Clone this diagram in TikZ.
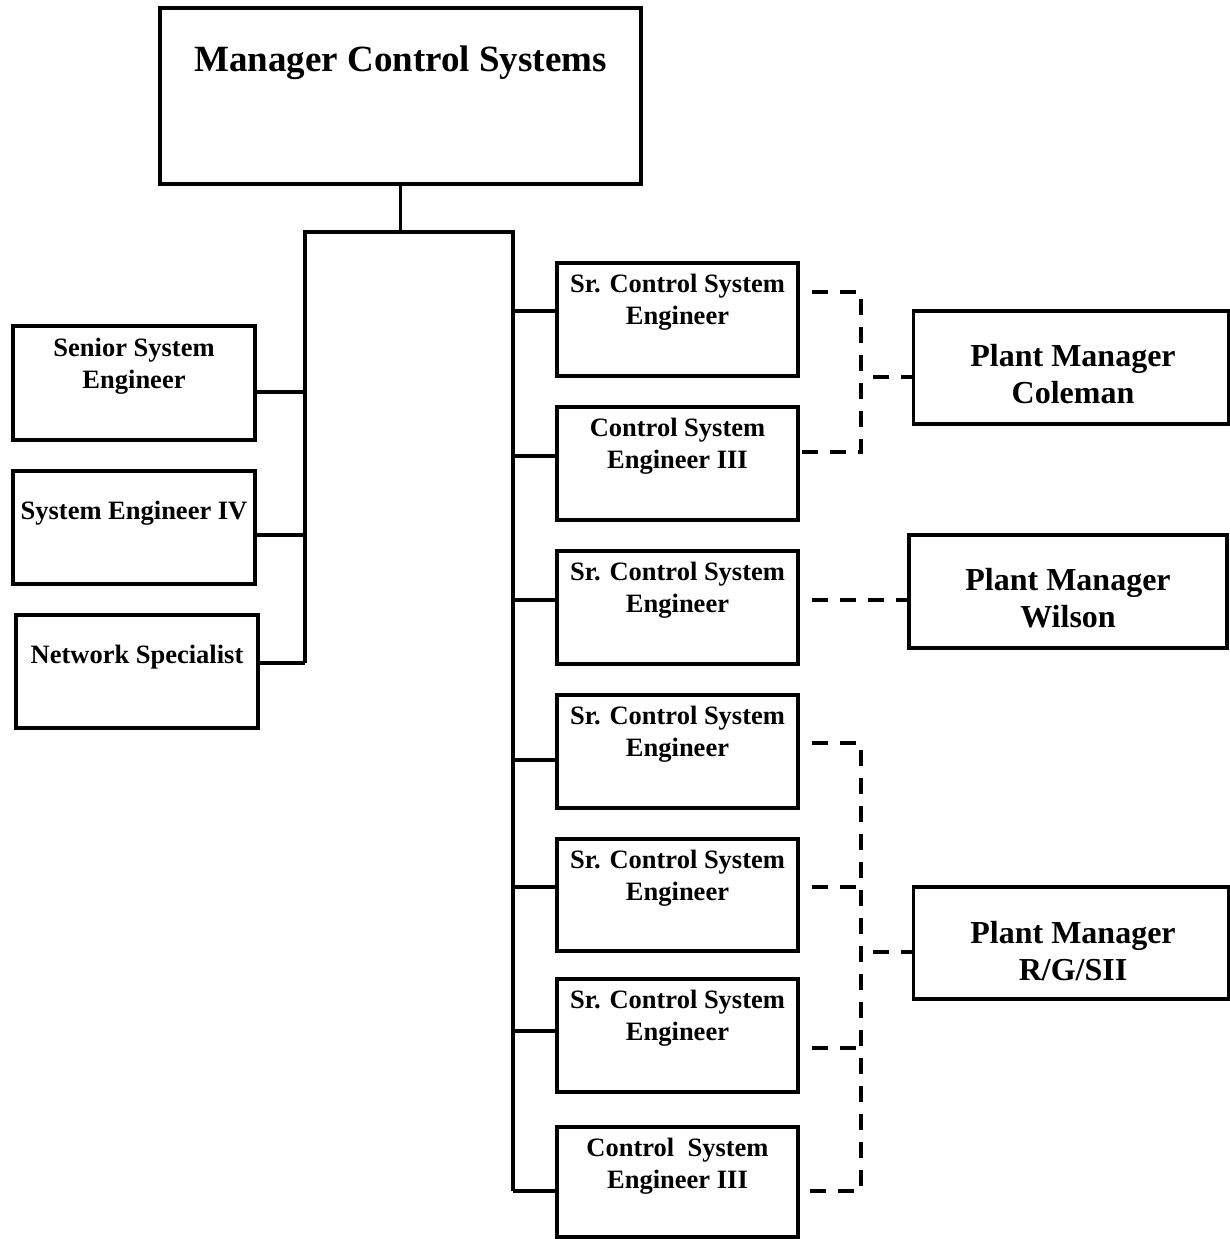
\documentclass[tikz,border=0pt]{standalone}
\usepackage{fontspec}
\setmainfont{Liberation Serif}
\begin{document}
\begin{tikzpicture}[x=1pt,y=-1pt,
  box/.style={draw,line width=3.5pt,rectangle,inner sep=0pt},
  sml/.style={font=\bfseries\fontsize{26.5}{32}\selectfont,align=center,inner sep=0pt},
  pm/.style={font=\bfseries\fontsize{32}{37}\selectfont,align=center,inner sep=0pt},
  ttl/.style={font=\bfseries\fontsize{37}{44}\selectfont,align=center,inner sep=0pt},
  conn/.style={line width=3.5pt},
  dconn/.style={line width=3.8pt,dash pattern=on 16pt off 12pt,dash phase=16pt}]
\useasboundingbox (0,0) rectangle (1230,1239);
% boxes
\node[box,minimum width=481pt,minimum height=176pt] (top) at (400.5,96) {};
\node[ttl] (ttop) at (400.5,63) {Manager Control Systems};
\node[box,minimum width=242pt,minimum height=114pt] (L1) at (134,383) {};
\node[sml] (tL1) at (134,366.5) {Senior System\\Engineer};
\node[box,minimum width=242pt,minimum height=113pt] (L2) at (134,527.5) {};
\node[sml] (tL2) at (134,513) {System Engineer IV};
\node[box,minimum width=242pt,minimum height=113pt] (L3) at (137,671.5) {};
\node[sml] (tL3) at (137,657) {Network Specialist};
\node[box,minimum width=241pt,minimum height=113pt] (R1) at (677.5,319.5) {};
\node[sml] (tR1) at (677.5,302) {Sr. Control System\\Engineer};
\node[box,minimum width=241pt,minimum height=113pt] (R2) at (677.5,463.5) {};
\node[sml] (tR2) at (677.5,446.5) {Control System\\Engineer III};
\node[box,minimum width=241pt,minimum height=113pt] (R3) at (677.5,607.5) {};
\node[sml] (tR3) at (677.5,590) {Sr. Control System\\Engineer};
\node[box,minimum width=241pt,minimum height=113pt] (R4) at (677.5,751.5) {};
\node[sml] (tR4) at (677.5,734) {Sr. Control System\\Engineer};
\node[box,minimum width=241pt,minimum height=112pt] (R5) at (677.5,895) {};
\node[sml] (tR5) at (677.5,878) {Sr. Control System\\Engineer};
\node[box,minimum width=241pt,minimum height=113pt] (R6) at (677.5,1035.5) {};
\node[sml] (tR6) at (677.5,1018) {Sr. Control System\\Engineer};
\node[box,minimum width=241pt,minimum height=110pt] (R7) at (677.5,1182) {};
\node[sml] (tR7) at (677.5,1166) {Control\ \ System\\Engineer III};
\node[box,minimum width=315pt,minimum height=113pt] (PC) at (1071,367.5) {};
\node[pm] (tPC) at (1073,374.5) {Plant Manager\\Coleman};
\node[box,minimum width=318pt,minimum height=113pt] (PW) at (1068,591.5) {};
\node[pm] (tPW) at (1068,598.5) {Plant Manager\\Wilson};
\node[box,minimum width=315pt,minimum height=112pt] (PR) at (1071,943) {};
\node[pm] (tPR) at (1073,951) {Plant Manager\\R/G/SII};
% bus
\coordinate (bl) at (305,232);
\coordinate (br) at (513,232);
\coordinate (lb) at (305,663);
\coordinate (rb) at (513,1191);
\draw[conn] (top.south) -- (top.south |- bl);
\draw[conn,line join=miter] (lb) -- (bl) -- (br) -- (rb);
\draw[conn] (L1.east |- 0,392) -- (bl |- 0,392);
\draw[conn] (L2.east |- 0,535) -- (bl |- 0,535);
\draw[conn] (L3.east |- 0,663) -- (lb);
\draw[conn] (br |- 0,311) -- (R1.west |- 0,311);
\draw[conn] (br |- 0,456) -- (R2.west |- 0,456);
\draw[conn] (br |- 0,600) -- (R3.west |- 0,600);
\draw[conn] (br |- 0,760) -- (R4.west |- 0,760);
\draw[conn] (br |- 0,887) -- (R5.west |- 0,887);
\draw[conn] (br |- 0,1031) -- (R6.west |- 0,1031);
\draw[conn] (rb) -- (R7.west |- rb);
% dashed
\coordinate (ca) at (861,292);
\coordinate (cb) at (861,452);
\draw[dconn] (R1.east |- ca) -- (ca) -- (cb) -- (R2.east |- cb);
\draw[dconn] (861,377) -- (PC.west |- 0,377);
\draw[dconn] (R3.east |- 0,600) -- (PW.west |- 0,600);
\coordinate (da) at (861,743);
\coordinate (db) at (861,1191);
\draw[dconn] (R4.east |- da) -- (da) -- (db) -- (R7.east |- db);
\draw[dconn] (R5.east |- 0,887) -- (861,887);
\draw[dconn] (R6.east |- 0,1048) -- (861,1048);
\draw[dconn] (861,952) -- (PR.west |- 0,952);
\end{tikzpicture}
\end{document}
